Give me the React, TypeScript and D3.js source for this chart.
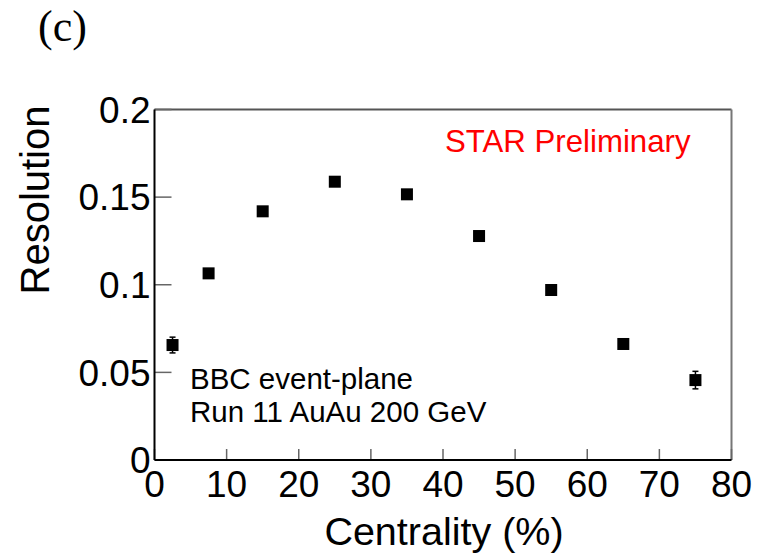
import React from "react";
import * as d3 from "d3";

const centrality = [2.5, 7.5, 15, 25, 35, 45, 55, 65, 75];
const resolution = [0.0656, 0.1065, 0.1419, 0.1588, 0.1516, 0.1278, 0.097, 0.0662, 0.0456];
const errors = [0.0045, 0.0015, 0.0012, 0.0012, 0.0012, 0.0012, 0.0015, 0.0015, 0.005];
const xTicks = [0, 10, 20, 30, 40, 50, 60, 70, 80];
const yTicks = [0, 0.05, 0.1, 0.15, 0.2];
const yTickLabels = ["0", "0.05", "0.1", "0.15", "0.2"];

const W = 757;
const H = 554;
const left = 154.5;
const right = 731.5;
const top = 109.5;
const bottom = 460;
const FONT = "'Liberation Sans', Arial, Helvetica, sans-serif";

export default function App() {
  const x = d3.scaleLinear().domain([0, 80]).range([left, right]);
  const y = d3.scaleLinear().domain([0, 0.2]).range([bottom, top]);
  const m = 12;
  return (
    <svg width={W} height={H} style={{ position: "absolute", left: 0, top: 0, background: "#fff" }}>
      <text x={38} y={41} fontFamily="'Liberation Serif', 'Times New Roman', serif" fontSize={44} fill="#000">(c)</text>
      {/* frame */}
      <line x1={left} y1={top} x2={right} y2={top} stroke="#555" strokeWidth={2} />
      <line x1={right} y1={top} x2={right} y2={bottom} stroke="#777" strokeWidth={2} />
      {/* ticks */}
      {xTicks.map((t) => (
        <line key={"xt" + t} x1={x(t)} x2={x(t)} y1={bottom} y2={bottom - 11} stroke="#666" strokeWidth={1.5} />
      ))}
      {yTicks.map((t) => (
        <line key={"yt" + t} x1={left} x2={left + 17} y1={y(t)} y2={y(t)} stroke="#666" strokeWidth={1.5} />
      ))}
      <line x1={left} y1={top} x2={left} y2={bottom} stroke="#000" strokeWidth={2} />
      <line x1={left} y1={bottom} x2={right} y2={bottom} stroke="#000" strokeWidth={2} />
      {/* tick labels */}
      {xTicks.map((t) => (
        <text key={"xl" + t} x={x(t)} y={bottom + 37} textAnchor="middle" fontFamily={FONT} fontSize={37} fill="#000">{t}</text>
      ))}
      {yTicks.map((t, i) => (
        <text key={"yl" + t} x={left - 4} y={y(t) + 13.2} textAnchor="end" fontFamily={FONT} fontSize={37} fill="#000">{yTickLabels[i]}</text>
      ))}
      {/* axis titles */}
      <text x={444} y={545} textAnchor="middle" fontFamily={FONT} fontSize={39.5} fill="#000">Centrality (%)</text>
      <text transform="translate(49,200) rotate(-90)" textAnchor="middle" fontFamily={FONT} fontSize={40} fill="#000">Resolution</text>
      {/* annotations */}
      <text x={445} y={152} fontFamily={FONT} fontSize={31.2} fill="#ff0000">STAR Preliminary</text>
      <text x={190} y={389} fontFamily={FONT} fontSize={29.5} fill="#000">BBC event-plane</text>
      <text x={190} y={422} fontFamily={FONT} fontSize={29.5} fill="#000">Run 11 AuAu 200 GeV</text>
      {/* data */}
      {centrality.map((c, i) => {
        const cx = x(c);
        const cy = y(resolution[i]);
        const y1 = y(resolution[i] + errors[i]);
        const y2 = y(resolution[i] - errors[i]);
        return (
          <g key={"p" + i}>
            <line x1={cx} x2={cx} y1={y1} y2={y2} stroke="#000" strokeWidth={1.5} />
            <line x1={cx - 3} x2={cx + 3} y1={y1} y2={y1} stroke="#000" strokeWidth={1.5} />
            <line x1={cx - 3} x2={cx + 3} y1={y2} y2={y2} stroke="#000" strokeWidth={1.5} />
            <rect x={cx - m / 2} y={cy - m / 2} width={m} height={m} fill="#000" />
          </g>
        );
      })}
    </svg>
  );
}
